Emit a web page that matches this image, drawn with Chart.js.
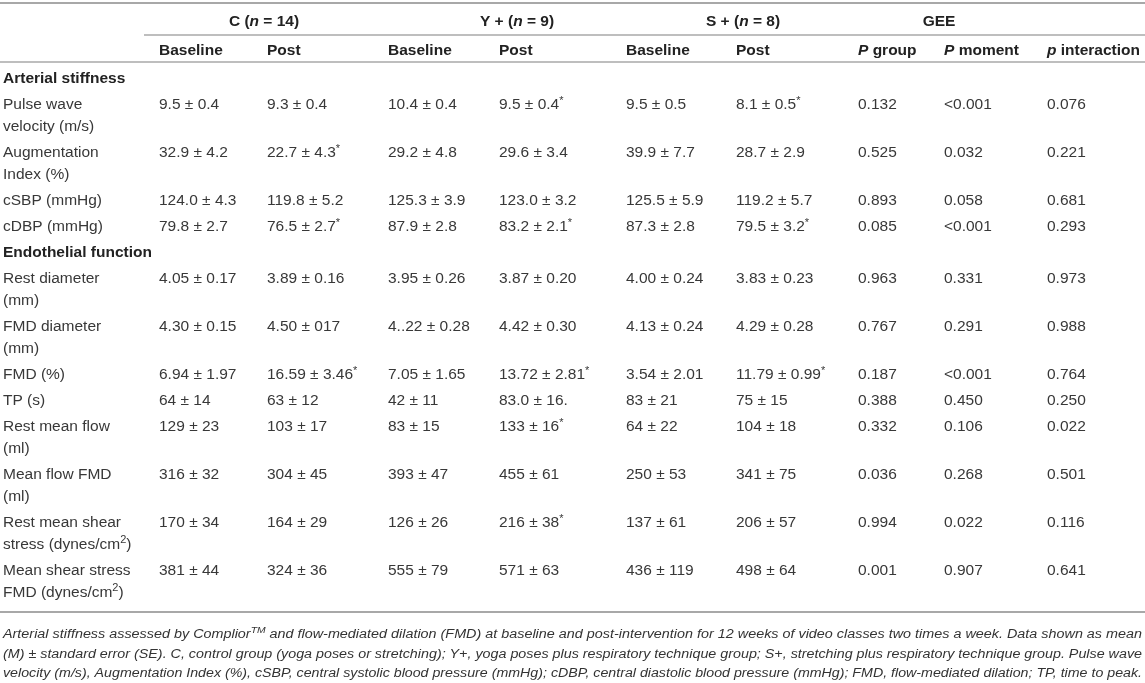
<!DOCTYPE html>
<html>
<head>
<meta charset="utf-8">
<title>Arterial stiffness and FMD</title>
<script src="https://cdn.jsdelivr.net/npm/chart.js"></script>
<style>
body{margin:0;background:#fff;overflow:hidden}
canvas{display:block}
</style>
</head>
<body>
<canvas id="tableChart" width="1145" height="683"></canvas>
<script>
// table content (markup: _italic_, ^superscript^, trailing * = raised asterisk)
const groups=['C (_n_ = 14)','Y + (_n_ = 9)','S + (_n_ = 8)','GEE'];
const subHeaders=['Baseline','Post','Baseline','Post','Baseline','Post','_P_ group','_P_ moment','_p_ interaction'];
const sections=['Arterial stiffness','Endothelial function'];
const variables=['Pulse wave\nvelocity (m/s)','Augmentation\nIndex (%)','cSBP (mmHg)','cDBP (mmHg)',
    'Rest diameter\n(mm)','FMD diameter\n(mm)','FMD (%)','TP (s)','Rest mean flow\n(ml)','Mean flow FMD\n(ml)',
    'Rest mean shear\nstress (dynes/cm^2^)','Mean shear stress\nFMD (dynes/cm^2^)'];
const sectionStart=[0,4];
const cBaseline=['9.5 ± 0.4','32.9 ± 4.2','124.0 ± 4.3','79.8 ± 2.7','4.05 ± 0.17','4.30 ± 0.15','6.94 ± 1.97','64 ± 14','129 ± 23','316 ± 32','170 ± 34','381 ± 44'];
const cPost=['9.3 ± 0.4','22.7 ± 4.3*','119.8 ± 5.2','76.5 ± 2.7*','3.89 ± 0.16','4.50 ± 017','16.59 ± 3.46*','63 ± 12','103 ± 17','304 ± 45','164 ± 29','324 ± 36'];
const yBaseline=['10.4 ± 0.4','29.2 ± 4.8','125.3 ± 3.9','87.9 ± 2.8','3.95 ± 0.26','4..22 ± 0.28','7.05 ± 1.65','42 ± 11','83 ± 15','393 ± 47','126 ± 26','555 ± 79'];
const yPost=['9.5 ± 0.4*','29.6 ± 3.4','123.0 ± 3.2','83.2 ± 2.1*','3.87 ± 0.20','4.42 ± 0.30','13.72 ± 2.81*','83.0 ± 16.','133 ± 16*','455 ± 61','216 ± 38*','571 ± 63'];
const sBaseline=['9.5 ± 0.5','39.9 ± 7.7','125.5 ± 5.9','87.3 ± 2.8','4.00 ± 0.24','4.13 ± 0.24','3.54 ± 2.01','83 ± 21','64 ± 22','250 ± 53','137 ± 61','436 ± 119'];
const sPost=['8.1 ± 0.5*','28.7 ± 2.9','119.2 ± 5.7','79.5 ± 3.2*','3.83 ± 0.23','4.29 ± 0.28','11.79 ± 0.99*','75 ± 15','104 ± 18','341 ± 75','206 ± 57','498 ± 64'];
const pGroup=['0.132','0.525','0.893','0.085','0.963','0.767','0.187','0.388','0.332','0.036','0.994','0.001'];
const pMoment=['<0.001','0.032','0.058','<0.001','0.331','0.291','<0.001','0.450','0.106','0.268','0.022','0.907'];
const pInteraction=['0.076','0.221','0.681','0.293','0.973','0.988','0.764','0.250','0.022','0.501','0.116','0.641'];
const caption=[
    'Arterial stiffness assessed by Complior^TM^ and flow-mediated dilation (FMD) at baseline and post-intervention for 12 weeks of video classes two times a week. Data shown as mean',
    '(M) ± standard error (SE). C, control group (yoga poses or stretching); Y+, yoga poses plus respiratory technique group; S+, stretching plus respiratory technique group. Pulse wave',
    'velocity (m/s), Augmentation Index (%), cSBP, central systolic blood pressure (mmHg); cDBP, central diastolic blood pressure (mmHg); FMD, flow-mediated dilation; TP, time to peak.'
];

// layout
const W=1145,H=683;
const COL_X=[3,159,267,388,499,626,736,858,944,1047];
const GROUP_CX=[264,517,743,939];
const Y_HEAD=20,Y_SUB=49,Y_FIRST=77,ROW_STEP=26,LINE_H=22;
const RULES=[{y:3,x0:0,w:2},{y:35,x0:144,w:1.5},{y:62,x0:0,w:1.5},{y:612,x0:0,w:2}];
const CAP_Y=[633,653,672],CAP_W=1139;
const FONT='"Liberation Sans", Arial, sans-serif';

// build row positions from line counts
const columns=[variables,cBaseline,cPost,yBaseline,yPost,sBaseline,sPost,pGroup,pMoment,pInteraction];
const sectionPts=[],rowY=[];
let y=Y_FIRST;
variables.forEach((v,i)=>{
    const s=sectionStart.indexOf(i);
    if(s>=0){sectionPts.push({x:COL_X[0],y:y,t:sections[s]});y+=ROW_STEP;}
    rowY.push(y);
    y+=ROW_STEP+LINE_H*(v.split('\n').length-1);
});

const datasets=[
    {label:'groups',kind:'head',data:groups.map((g,i)=>({x:GROUP_CX[i],y:Y_HEAD,t:g}))},
    {label:'sub',kind:'sub',data:subHeaders.map((h,i)=>({x:COL_X[i+1],y:Y_SUB,t:h}))},
    {label:'sections',kind:'section',data:sectionPts}
];
columns.forEach((col,c)=>{
    datasets.push({label:'col'+c,kind:'cell',data:col.map((t,i)=>({x:COL_X[c],y:rowY[i],t:t}))});
});
datasets.forEach(d=>{d.pointRadius=0;d.pointHoverRadius=0;d.showLine=false;});

function segs(text){
    const out=[];
    text.split(/(_[^_]+_|\^[^^]+\^|\*$)/).forEach(p=>{
        if(!p)return;
        if(p[0]==='_'&&p.length>1)out.push({t:p.slice(1,-1),it:true});
        else if(p[0]==='^')out.push({t:p.slice(1,-1),sup:true});
        else if(p==='*')out.push({t:'*',sup:true,star:true});
        else out.push({t:p});
    });
    return out;
}
function fontFor(s,o){
    const size=s.sup?Math.round(o.size*(s.star?0.72:0.68)):o.size;
    return (o.italic||s.it?'italic ':'')+(o.bold?'bold ':'')+size+'px '+FONT;
}
function drawRich(ctx,text,x,y,o){
    const parts=segs(text);
    let total=0;
    parts.forEach(s=>{ctx.font=fontFor(s,o);s.w=ctx.measureText(s.t).width;total+=s.w;});
    const sx=o.fit?o.fit/total:1;
    let cx=o.align==='center'?x-total*sx/2:x;
    ctx.save();
    ctx.fillStyle=o.color;
    ctx.textBaseline='alphabetic';
    parts.forEach(s=>{
        ctx.font=fontFor(s,o);
        const dy=s.sup?-o.size*(s.star?0.28:0.38):0;
        ctx.save();
        ctx.translate(cx,y+o.size*0.36+dy);
        ctx.scale(sx,1);
        ctx.fillText(s.t,0,0);
        ctx.restore();
        cx+=s.w*sx;
    });
    ctx.restore();
}

const tablePlugin={
    id:'tableText',
    afterDatasetsDraw(chart){
        const ctx=chart.ctx,xs=chart.scales.x,ys=chart.scales.y;
        ctx.save();
        ctx.strokeStyle='#a8a8a8';
        RULES.forEach(r=>{
            ctx.lineWidth=r.w;
            ctx.beginPath();
            ctx.moveTo(xs.getPixelForValue(r.x0),ys.getPixelForValue(r.y));
            ctx.lineTo(xs.getPixelForValue(W),ys.getPixelForValue(r.y));
            ctx.stroke();
        });
        ctx.restore();
        chart.data.datasets.forEach((ds,di)=>{
            const meta=chart.getDatasetMeta(di);
            meta.data.forEach((el,i)=>{
                const raw=ds.data[i];
                const lines=raw.t.split('\n');
                const bold=ds.kind!=='cell';
                lines.forEach((ln,k)=>{
                    drawRich(ctx,ln,el.x,el.y+k*LINE_H,{size:15.5,bold:bold,
                        color:bold?'#222':'#383838',align:ds.kind==='head'?'center':'left'});
                });
            });
        });
        caption.forEach((c,i)=>{
            drawRich(ctx,c,xs.getPixelForValue(3),ys.getPixelForValue(CAP_Y[i]),
                {size:12.5,italic:true,color:'#333',fit:CAP_W});
        });
    }
};

new Chart(document.getElementById('tableChart'),{
    type:'scatter',
    data:{datasets:datasets},
    options:{
        responsive:false,
        animation:false,
        events:[],
        layout:{padding:0},
        plugins:{legend:{display:false},tooltip:{enabled:false}},
        scales:{
            x:{type:'linear',min:0,max:W,display:false},
            y:{type:'linear',min:0,max:H,reverse:true,display:false}
        }
    },
    plugins:[tablePlugin]
});
</script>
</body>
</html>
